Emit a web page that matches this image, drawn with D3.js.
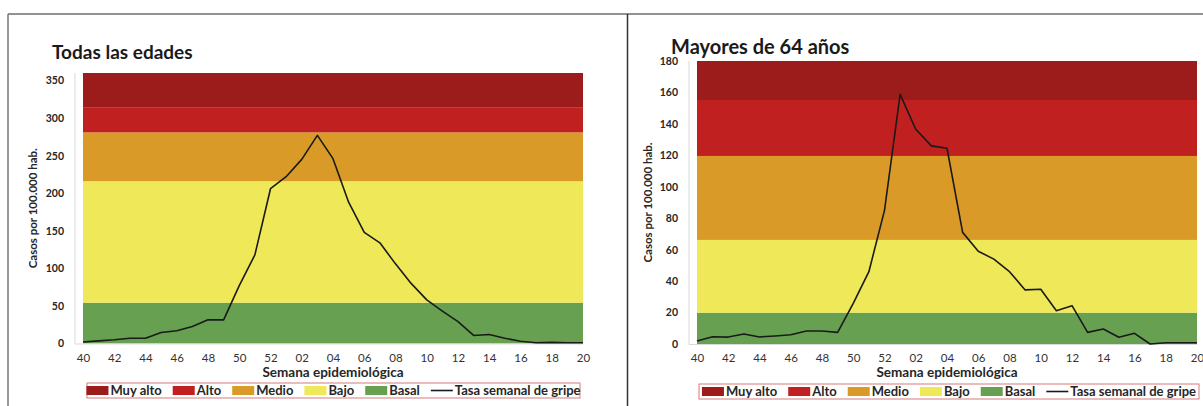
<!DOCTYPE html>
<html>
<head>
<meta charset="utf-8">
<script src="https://cdn.jsdelivr.net/npm/d3@7"></script>
<style>
body { margin: 0; background: #fff; }
svg { display: block; }
text { font-family: Lato, "Open Sans", sans-serif; }
</style>
</head>
<body>
<svg id="chart" width="1203" height="406"></svg>
<script>
// semanas epidemiológicas (temporada 40 -> 20)
var semanas = ["40","41","42","43","44","45","46","47","48","49","50","51","52",
	"01","02","03","04","05","06","07","08","09","10","11","12","13","14","15","16","17","18","19","20"];

// tasa semanal de gripe, casos por 100.000 hab.
var tasaTodas = [2, 3.5, 5, 7, 7, 14.7, 17, 22.7, 31.5, 31.5, 77, 118, 206,
	222, 245, 277, 246, 188, 148, 134, 106, 80, 58, 43, 29, 10.7, 12, 7, 3, 1, 1.5, 1, 1];
var tasaMayores = [1.9, 4.6, 4.4, 6.4, 4.5, 5.1, 5.9, 8.3, 8.3, 7.4, 25.9, 46, 85,
	158.8, 136.6, 126, 124.5, 71, 59, 54, 46, 34.4, 34.8, 21.2, 24.4, 7.4, 9.5, 4.3, 6.8, 0, 0.8, 0.8, 0.8];

// niveles de intensidad (límite superior de cada banda)
var niveles = ["Basal", "Bajo", "Medio", "Alto", "Muy alto"];
var coloresNivel = ["#66a050", "#efe858", "#da9a28", "#c0201f", "#9b1c1a"];
var umbralesTodas = [54.3, 216, 281, 314.5, 360];
var umbralesMayores = [19.9, 66.2, 119.6, 155.2, 180];

var ticksTodas = [0, 50, 100, 150, 200, 250, 300, 350];
var ticksMayores = [0, 20, 40, 60, 80, 100, 120, 140, 160, 180];

var etiquetaLinea = "Tasa semanal de gripe";

var svg = d3.select("#chart");

// marco exterior
svg.append("line").attr("x1", 8).attr("x2", 1203).attr("y1", 14).attr("y2", 14)
	.style("stroke", "#6d6d6d").style("stroke-width", 1.5);
svg.append("line").attr("x1", 8).attr("x2", 8).attr("y1", 14).attr("y2", 406)
	.style("stroke", "#777").style("stroke-width", 1.5);
svg.append("line").attr("x1", 627.5).attr("x2", 627.5).attr("y1", 14).attr("y2", 406)
	.style("stroke", "#333").style("stroke-width", 1.5);

function drawChart(cfg) {
	var g = svg.append("g");

	var x = d3.scalePoint().domain(semanas).range([cfg.x0, cfg.x1]);
	var y = d3.scaleLinear().domain([0, cfg.umbrales[cfg.umbrales.length - 1]]).range([cfg.y0, cfg.y1]);

	var bandas = cfg.umbrales.map(function(u, i) {
		return { nivel: niveles[i], lo: i ? cfg.umbrales[i - 1] : 0, hi: u, color: coloresNivel[i] };
	});

	g.selectAll("rect.banda").data(bandas).enter().append("rect")
		.attr("class", "banda")
		.attr("x", cfg.x0)
		.attr("width", cfg.x1 - cfg.x0)
		.attr("y", function(d) { return y(d.hi); })
		.attr("height", function(d) { return y(d.lo) - y(d.hi); })
		.style("fill", function(d) { return d.color; });

	// ejes tenues
	g.append("line").attr("x1", cfg.axisX).attr("x2", cfg.axisX).attr("y1", cfg.y1).attr("y2", cfg.y0 + 0.5)
		.style("stroke", "#d9d9d9");
	g.append("line").attr("x1", cfg.axisX).attr("x2", cfg.x1).attr("y1", cfg.y0 + 0.5).attr("y2", cfg.y0 + 0.5)
		.style("stroke", "#d9d9d9");

	var yAxis = g.append("g")
		.attr("transform", "translate(" + cfg.axisX + ",0)")
		.call(d3.axisLeft(y).tickValues(cfg.ticks).tickSize(0).tickPadding(11));
	yAxis.select(".domain").remove();
	yAxis.selectAll("text")
		.style("font-family", "Lato, sans-serif")
		.style("font-size", "10.5px")
		.style("font-weight", "bold")
		.style("fill", "#262626");

	var xAxis = g.append("g")
		.attr("transform", "translate(0," + cfg.y0 + ")")
		.call(d3.axisBottom(x).tickValues(semanas.filter(function(d, i) { return i % 2 == 0; }))
			.tickSize(0).tickPadding(10));
	xAxis.select(".domain").remove();
	xAxis.selectAll("text")
		.style("font-family", "Lato, sans-serif")
		.style("font-size", "11.5px")
		.style("fill", "#333");

	var linea = d3.line()
		.x(function(d, i) { return x(semanas[i]); })
		.y(function(d) { return y(d); });

	g.append("path")
		.datum(cfg.tasa)
		.attr("d", linea)
		.style("fill", "none")
		.style("stroke", "#1a1a1a")
		.style("stroke-width", 1.6)
		.style("stroke-linejoin", "round");

	// títulos
	g.append("text")
		.attr("x", cfg.tituloX).attr("y", cfg.tituloY)
		.text(cfg.titulo)
		.style("font-size", cfg.tituloSize)
		.style("font-weight", "bold")
		.style("fill", "#1a1a1a");

	g.append("text")
		.attr("transform", "translate(" + cfg.yTitleX + "," + ((cfg.y0 + cfg.y1) / 2) + ") rotate(-90)")
		.attr("text-anchor", "middle")
		.attr("dy", "0.35em")
		.text("Casos por 100.000 hab.")
		.style("font-size", "11.5px")
		.style("font-weight", "bold")
		.style("fill", "#262626");

	g.append("text")
		.attr("x", (cfg.x0 + cfg.x1) / 2).attr("y", 377)
		.attr("text-anchor", "middle")
		.text("Semana epidemiológica")
		.style("font-size", "13.5px")
		.style("font-weight", "bold")
		.style("fill", "#262626");

	drawLegend(g, cfg.legend);
}

function drawLegend(g, box) {
	var lg = g.append("g");
	lg.append("rect")
		.attr("x", box.x0).attr("y", box.y)
		.attr("width", box.x1 - box.x0).attr("height", box.h)
		.style("fill", "#fff")
		.style("stroke", "#d77b7b")
		.style("stroke-width", 1);

	var items = niveles.map(function(n, i) { return { nombre: n, color: coloresNivel[i], tipo: "rect" }; }).reverse();
	items.push({ nombre: etiquetaLinea, color: "#1a1a1a", tipo: "line" });

	var cy = box.y + box.h / 2;
	var sw = 22, gapT = 2, gapI = 11;
	var nodos = lg.selectAll("g.item").data(items).enter().append("g").attr("class", "item");
	nodos.append("text")
		.attr("x", sw + gapT)
		.attr("y", cy)
		.attr("dy", "0.36em")
		.text(function(d) { return d.nombre; })
		.style("font-size", "13px")
		.style("font-weight", "bold")
		.style("fill", "#262626");

	var anchos = [];
	nodos.select("text").each(function() { anchos.push(this.getComputedTextLength()); });
	var total = d3.sum(anchos) + items.length * (sw + gapT) + (items.length - 1) * gapI;
	var cx = box.x0 + ((box.x1 - box.x0) - total) / 2;
	nodos.attr("transform", function(d, i) {
		var off = cx;
		for (var k = 0; k < i; k++) off += anchos[k] + sw + gapT + gapI;
		return "translate(" + off + ",0)";
	});
	nodos.filter(function(d) { return d.tipo == "rect"; }).append("rect")
		.attr("x", 0).attr("y", cy - 4.5).attr("width", sw).attr("height", 9)
		.style("fill", function(d) { return d.color; });
	nodos.filter(function(d) { return d.tipo == "line"; }).append("line")
		.attr("x1", 0).attr("x2", sw).attr("y1", cy).attr("y2", cy)
		.style("stroke", function(d) { return d.color; })
		.style("stroke-width", 1.6);
}

drawChart({
	titulo: "Todas las edades", tituloX: 52, tituloY: 59, tituloSize: "19px",
	tasa: tasaTodas, umbrales: umbralesTodas, ticks: ticksTodas,
	x0: 83, x1: 583, y0: 343.5, y1: 73, axisX: 75, yTitleX: 33,
	legend: { x0: 87, x1: 580, y: 383, h: 15 }
});

drawChart({
	titulo: "Mayores de 64 años", tituloX: 671, tituloY: 53.5, tituloSize: "20px",
	tasa: tasaMayores, umbrales: umbralesMayores, ticks: ticksMayores,
	x0: 697, x1: 1197, y0: 344, y1: 61, axisX: 689, yTitleX: 648,
	legend: { x0: 699, x1: 1199, y: 384, h: 15 }
});
</script>
</body>
</html>
